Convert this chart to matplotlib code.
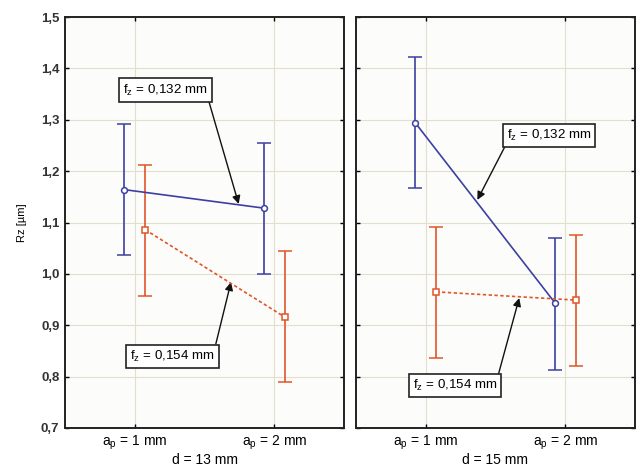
import matplotlib.pyplot as plt
import numpy as np

plt.rcParams["font.family"] = ["Liberation Sans", "DejaVu Sans"]

# data
categories = ["a$_\\mathregular{p}$ = 1 mm", "a$_\\mathregular{p}$ = 2 mm"]
panels = ["d = 13 mm", "d = 15 mm"]

rz_132 = [[1.164, 1.128], [1.294, 0.944]]
lo_132 = [[1.037, 1.000], [1.167, 0.813]]
hi_132 = [[1.292, 1.255], [1.422, 1.070]]

rz_154 = [[1.086, 0.916], [0.965, 0.949]]
lo_154 = [[0.957, 0.790], [0.837, 0.821]]
hi_154 = [[1.212, 1.045], [1.091, 1.076]]

label_132 = "f$_\\mathregular{z}$ = 0,132 mm"
label_154 = "f$_\\mathregular{z}$ = 0,154 mm"

blue = "#3c40a2"
orange = "#e0552a"

fig = plt.figure(figsize=(6.39, 4.71), dpi=100)
ax1 = fig.add_axes([65 / 639, 43 / 471, 279 / 639, 411 / 471])
ax2 = fig.add_axes([356 / 639, 43 / 471, 279 / 639, 411 / 471], sharey=ax1)
axes = [ax1, ax2]

x = np.array([1, 2])
off = 0.075
yt = np.arange(0.7, 1.51, 0.1)

for i, ax in enumerate(axes):
    ax.set_facecolor("#fcfcfa")
    y = np.array(rz_132[i])
    err = [y - np.array(lo_132[i]), np.array(hi_132[i]) - y]
    ax.errorbar(x - off, y, yerr=err, color=blue, lw=1.2, capsize=4.7, capthick=1.2,
                marker="o", ms=4.2, mfc="white", mec=blue, mew=1.1, zorder=3)
    y = np.array(rz_154[i])
    err = [y - np.array(lo_154[i]), np.array(hi_154[i]) - y]
    eb = ax.errorbar(x + off, y, yerr=err, color=orange, lw=1.2, capsize=4.7,
                     capthick=1.2, marker="s", ms=4.2, mfc="white", mec=orange,
                     mew=1.1, zorder=3, ls=(0, (2, 1.5)))
    for b in eb[2]:
        b.set_linestyle("-")
    ax.set_xlim(0.5, 2.5)
    ax.set_ylim(0.7, 1.5)
    ax.set_xticks(x)
    ax.set_xticklabels(categories, fontsize=10)
    ax.set_yticks(yt)
    ax.set_yticklabels([f"{v:.1f}".replace(".", ",") for v in yt],
                       fontsize=9.5, fontweight="bold", color="#333333")
    ax.set_xlabel(panels[i], fontsize=10, labelpad=1)
    ax.grid(True, color="#e2dfcf", lw=0.8)
    ax.set_axisbelow(True)
    ax.tick_params(direction="in", length=3, top=True, right=True, width=1, pad=4)
    for s in ax.spines.values():
        s.set_linewidth(1.4)
        s.set_color("#222222")

ax2.tick_params(labelleft=False)
ax1.set_ylabel("Rz [µm]", fontsize=8, labelpad=10)

box = dict(boxstyle="square,pad=0.3", fc="white", ec="#222222", lw=1.2)


def arrow(rel):
    return dict(arrowstyle="-|>", color="#111111", lw=1.0, mutation_scale=12,
                shrinkA=0, shrinkB=0, relpos=rel)


fs = 9.6
ax1.annotate(label_132, xy=(1.745, 1.136), xytext=(1.22, 1.358), fontsize=fs,
             ha="center", va="center", bbox=box, arrowprops=arrow((1.0, 0.0)))
ax1.annotate(label_154, xy=(1.69, 0.984), xytext=(1.27, 0.84), fontsize=fs,
             ha="center", va="center", bbox=box, arrowprops=arrow((1.0, 1.0)))
ax2.annotate(label_132, xy=(1.37, 1.144), xytext=(1.885, 1.27), fontsize=fs,
             ha="center", va="center", bbox=box, arrowprops=arrow((0.0, 0.0)))
ax2.annotate(label_154, xy=(1.67, 0.953), xytext=(1.21, 0.782), fontsize=fs,
             ha="center", va="center", bbox=box, arrowprops=arrow((1.0, 1.0)))

fig.savefig("out.png", dpi=100)
